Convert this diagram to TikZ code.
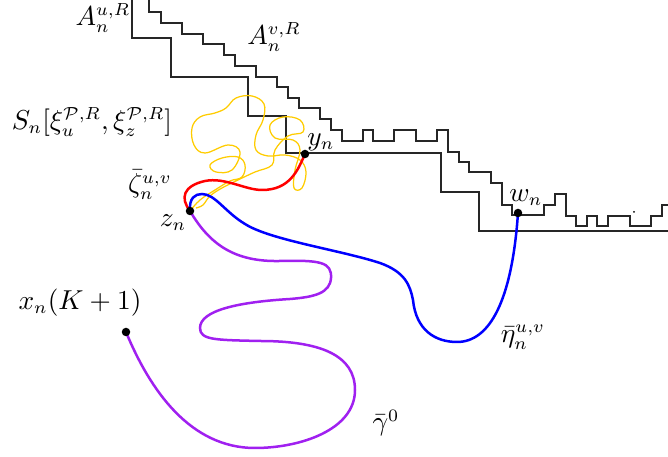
\documentclass[tikz,border=0pt]{standalone}
\usepackage{amssymb}
\definecolor{curvepurple}{RGB}{160,32,240}
\definecolor{curveyellow}{RGB}{255,204,0}
\tikzset{
  stair/.style={line width=0.45pt, black!85},
  thickcurve/.style={line width=1pt, line cap=round},
  dotnode/.style={circle, fill=black, inner sep=0pt, minimum size=3.4pt},
  lab/.style={inner sep=0pt, font=\fontsize{10.5pt}{12pt}\selectfont}
}
\begin{document}
\begin{tikzpicture}[x=0.4pt,y=-0.4pt]
\useasboundingbox (0,0) rectangle (668,457);
% staircases
\draw[stair] (132,0) -- (132,38) -- (171,38) -- (171,77) -- (248,77) -- (248,116) -- (286,116) -- (286,153) -- (441,153) -- (441,192) -- (479,192) -- (479,231) -- (668,231);
\draw[stair] (149,0) -- (149,12) -- (161,12) -- (161,23) -- (182,23) -- (182,34) -- (203,34) -- (203,44) -- (224,44) -- (224,55) -- (235,55) -- (235,66) -- (256,66) -- (256,77) -- (277,77) -- (277,87) -- (288,87) -- (288,98) -- (299,98) -- (299,108) -- (320,108) -- (320,119) -- (331,119) -- (331,130) -- (342,130) -- (342,141) -- (363,141) -- (363,130) -- (373,130) -- (373,141) -- (394,141) -- (394,130) -- (416,130) -- (416,141) -- (437,141) -- (437,130) -- (448,130) -- (448,152) -- (459,152) -- (459,162) -- (469,162) -- (469,172) -- (491,172) -- (491,183) -- (502,183) -- (502,205) -- (512,205) -- (512,215) -- (544,215) -- (544,205) -- (555,205) -- (555,194) -- (566,194) -- (566,216) -- (576,216) -- (576,226) -- (587,226) -- (587,216) -- (597,216) -- (597,226) -- (608,226) -- (608,216) -- (630,216) -- (630,226) -- (651,226) -- (651,216) -- (662,216) -- (662,205) -- (668,205);
\fill[black] (634,212) circle[radius=0.4pt];
% points
\coordinate (zn) at (190,211);
\coordinate (yn) at (305,154);
\coordinate (wn) at (518,213);
\coordinate (xn) at (126,332);
% yellow scribble
\draw[curveyellow, line width=0.5pt] plot[smooth, tension=0.65] coordinates {
 (zn) (200,200) (215,190) (230,181) (242,177) (245,165) (238,157) (222,158) (210,165) (216,172) (232,170) (240,152) (228,145) (205,153) (194,145) (192,128) (200,117) (215,113) (226,108) (236,98) (252,96) (264,104) (263,120) (256,135) (256,150) (268,156) (285,155) (300,160) (306,172) (302,188) (294,188) (295,170) (300,150) (293,140) (275,138) (270,125) (283,117) (300,120) (303,132) (288,136) (275,150) (272,165) (255,172) (238,180) (222,188) (210,196) (203,205) (196,208)};
% red
\draw[red, thickcurve] (zn) .. controls (180,198) and (183,186) .. (205,181)
  .. controls (225,177) and (245,190) .. (262,190)
  .. controls (290,190) and (298,170) .. (yn);
% blue
\draw[blue, thickcurve] (zn) .. controls (189,198) and (195,194) .. (202,194)
  .. controls (215,194) and (225,212) .. (245,224)
  .. controls (270,240) and (340,250) .. (380,263)
  .. controls (405,272) and (410,285) .. (413,300)
  .. controls (416,330) and (435,342) .. (457,342)
  .. controls (490,342) and (512,300) .. (wn);
% purple
\draw[curvepurple, thickcurve] (zn) .. controls (210,245) and (235,262) .. (280,261)
  .. controls (320,260) and (332,262) .. (331,278)
  .. controls (330,293) and (315,297) .. (290,299)
  .. controls (240,302) and (200,310) .. (200,328)
  .. controls (200,340) and (215,340) .. (260,341)
  .. controls (320,341) and (355,355) .. (355,390)
  .. controls (355,430) and (300,448) .. (255,448)
  .. controls (190,448) and (150,390) .. (xn);
% dots
\node[dotnode] (dz) at (zn) {};
\node[dotnode] (dy) at (yn) {};
\node[dotnode] (dw) at (wn) {};
\node[dotnode] (dx) at (xn) {};
% labels
\node[lab] (lAu) at (103,18) {$A_n^{u,R}$};
\node[lab] (lAv) at (274,37) {$A_n^{v,R}$};
\node[lab] (lS) at (92,122) {$S_n[\xi_u^{\mathcal{P},R},\xi_z^{\mathcal{P},R}]$};
\node[lab] (lzeta) at (150,185) {$\bar\zeta_n^{u,v}$};
\node[lab] (lz) at (173,223) {$z_n$};
\node[lab] (ly) at (321,142) {$y_n$};
\node[lab] (lw) at (526,198) {$w_n$};
\node[lab] (leta) at (523,337) {$\bar\eta_n^{u,v}$};
\node[lab] (lgamma) at (386,423) {$\bar\gamma^0$};
\node[lab] (lx) at (80,303) {$x_n(K+1)$};
\end{tikzpicture}
\end{document}
